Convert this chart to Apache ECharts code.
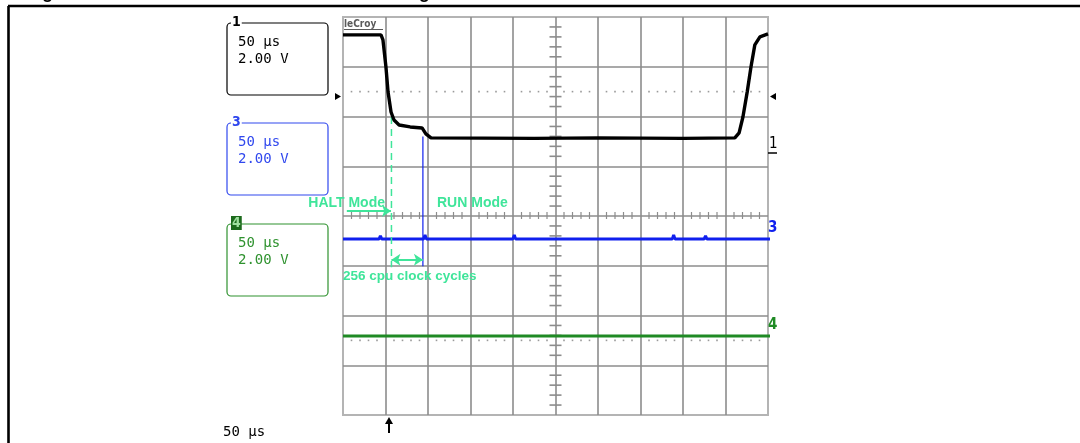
<!DOCTYPE html>
<html><head><meta charset="utf-8">
<script src="https://cdn.jsdelivr.net/npm/echarts@6/dist/echarts.min.js"></script>
<style>html,body{margin:0;padding:0;background:#fff}#c{width:1080px;height:443px}</style>
</head><body><div id="c"></div>
<script>
// Time axis in divisions (10 div x 50 µs), voltage in divisions (8 div x 2.00 V) from bottom
const xDivisions = [0, 10];
const yDivisions = [0, 8];
// Channel 1 (black) trace
const ch1Time = [0, 0.894, 0.94, 1.01, 1.06, 1.13, 1.2, 1.32, 1.58, 1.86, 1.95, 2.07, 4.5, 6.0, 8.0, 9.22, 9.32, 9.41, 9.51, 9.6, 9.69, 9.81, 10];
const ch1Volt = [7.64, 7.64, 7.54, 7.0, 6.49, 6.09, 5.93, 5.83, 5.79, 5.77, 5.65, 5.57, 5.56, 5.57, 5.56, 5.57, 5.67, 5.99, 6.49, 7.0, 7.44, 7.6, 7.66];
// Channel 3 (blue) trace
const ch3Time = [0, 0.85, 0.88, 0.91, 1.9, 1.93, 1.96, 4.0, 4.03, 4.06, 7.75, 7.78, 7.81, 8.5, 8.53, 8.56, 10.18];
const ch3Volt = [3.54, 3.54, 3.6, 3.54, 3.54, 3.62, 3.54, 3.54, 3.62, 3.54, 3.54, 3.62, 3.54, 3.54, 3.6, 3.54, 3.54];
// Channel 4 (green) trace
const ch4Time = [0, 10.18];
const ch4Volt = [1.59, 1.59];
// Blue cursor line at RUN mode start
const runCursorTime = [1.88, 1.88];
const runCursorVolt = [5.6, 2.99];
// HALT mode exit (dashed) cursor
const haltCursorTime = [1.14, 1.14];
const haltCursorVolt = [5.99, 2.97];
// Annotation arrows
const haltArrow = [[0.09, 4.1], [1.13, 4.1]];
const runArrow = [[10.1, 4.1], [1.93, 4.1]];
const cyclesArrow = [[1.14, 3.12], [1.88, 3.12]];
// Reference level dotted rows (divisions)
const refLevels = [6.5, 1.5];
// Channel box texts
const boxTexts = ['50 μs', '2.00 V'];
const timebaseText = '50 μs';

const MINT = '#3fe59a';
const BLUE = '#1020ee';
const GREEN = '#1f8a24';
const zip = (a, b) => a.map((v, i) => [v, b[i]]);

const chart = echarts.init(document.getElementById('c'));
const mono = '"DejaVu Sans Mono", monospace';
const boldSans = '"Liberation Sans", Arial, sans-serif';

function box(x, y, color, label, labelStyle) {
  const els = [
    {type: 'rect', shape: {x: x, y: y, width: 101, height: 72, r: 4}, style: {fill: 'none', stroke: color, lineWidth: 1.2}},
    {type: 'text', x: x + 11, y: y + 19, style: {text: boxTexts[0], font: '14px ' + mono, fill: color, verticalAlign: 'middle'}},
    {type: 'text', x: x + 11, y: y + 36, style: {text: boxTexts[1], font: '14px ' + mono, fill: color, verticalAlign: 'middle'}},
    {type: 'text', x: x + 4, y: y - 1, style: Object.assign({text: label, font: 'bold 14px "DejaVu Sans Condensed", sans-serif', fill: color, verticalAlign: 'middle', backgroundColor: '#fff', padding: [0, 1]}, labelStyle || {})}
  ];
  return els;
}

const option = {
  animation: false,
  backgroundColor: '#fff',
  grid: {left: 343, top: 17, width: 425, height: 398, show: true, borderColor: '#b4b4b4', borderWidth: 2, backgroundColor: 'transparent'},
  xAxis: {type: 'value', min: xDivisions[0], max: xDivisions[1], interval: 1,
    axisLine: {show: false}, axisTick: {show: false}, axisLabel: {show: false},
    splitLine: {show: true, showMinLine: false, showMaxLine: false, lineStyle: {color: '#8c8c8c', width: 1.6}}},
  yAxis: {type: 'value', min: yDivisions[0], max: yDivisions[1], interval: 1,
    axisLine: {show: false}, axisTick: {show: false}, axisLabel: {show: false},
    splitLine: {show: true, showMinLine: false, showMaxLine: false, lineStyle: {color: '#8c8c8c', width: 1.6}}},
  series: [
    {
      type: 'custom', name: 'reticle', silent: true, z: 1,
      data: [[0, 0]],
      renderItem: function (params, api) {
        const ch = [];
        const xc = (xDivisions[0] + xDivisions[1]) / 2;
        const yc = (yDivisions[0] + yDivisions[1]) / 2;
        for (let k = 1; k < 50; k++) {
          if (k % 5 === 0) continue;
          const p = api.coord([k * 0.2, yc]);
          ch.push({type: 'line', shape: {x1: p[0], y1: p[1] - 4, x2: p[0], y2: p[1] + 3}, style: {stroke: '#8c8c8c', lineWidth: 1.2}});
          refLevels.forEach(function (lv) {
            const q = api.coord([k * 0.2, lv]);
            ch.push({type: 'rect', shape: {x: q[0] - 0.8, y: q[1] - 0.8, width: 1.6, height: 1.6}, style: {fill: '#9a9a9a'}});
          });
        }
        for (let k = 1; k < 40; k++) {
          if (k % 5 === 0) continue;
          const p = api.coord([xc, k * 0.2]);
          ch.push({type: 'line', shape: {x1: p[0] - 6, y1: p[1], x2: p[0] + 6, y2: p[1]}, style: {stroke: '#8c8c8c', lineWidth: 1.6}});
        }
        return {type: 'group', children: ch};
      }
    },
    {type: 'line', name: 'CH4', data: zip(ch4Time, ch4Volt), showSymbol: false, clip: false, z: 3,
      lineStyle: {color: GREEN, width: 3}},
    {type: 'line', name: 'CH3', data: zip(ch3Time, ch3Volt), showSymbol: false, clip: false, z: 3,
      lineStyle: {color: BLUE, width: 3}},
    {type: 'line', name: 'RUN cursor', data: zip(runCursorTime, runCursorVolt), showSymbol: false, z: 3,
      lineStyle: {color: BLUE, width: 1.2}},
    {type: 'line', name: 'HALT cursor', data: zip(haltCursorTime, haltCursorVolt), showSymbol: false, z: 3,
      lineStyle: {color: MINT, width: 1.5, type: [7, 5]}},
    {type: 'line', name: 'CH1', data: zip(ch1Time, ch1Volt), showSymbol: false, z: 4,
      lineStyle: {color: '#000', width: 3.4}},
    {type: 'line', name: 'annotations', data: [], z: 5,
      markLine: {silent: true, animation: false, symbol: ['none', 'arrow'], symbolSize: [9, 9], label: {show: false},
        lineStyle: {color: MINT, width: 2, type: 'solid'},
        data: [
          [{coord: haltArrow[0]}, {coord: haltArrow[1]}],
          [{coord: runArrow[0]}, {coord: runArrow[1]}],
          [{coord: cyclesArrow[0], symbol: 'arrow'}, {coord: cyclesArrow[1]}]
        ]}}
  ],
  graphic: [
    // page frame and clipped title
    {type: 'text', x: 26, y: -7, style: {text: 'Figure 10. HALT mode exit to RUN mode timing', font: 'bold 18px ' + boldSans, fill: '#000', verticalAlign: 'middle'}},
    {type: 'line', shape: {x1: 8, y1: 6, x2: 1080, y2: 6}, style: {stroke: '#000', lineWidth: 2.6}},
    {type: 'line', shape: {x1: 8.5, y1: 6, x2: 8.5, y2: 443}, style: {stroke: '#000', lineWidth: 2.6}},
    // LeCroy logo
    {type: 'text', x: 344, y: 24, z: 10, style: {text: 'leCroy', font: 'bold 10px "DejaVu Sans Condensed", sans-serif', fill: '#5a5a5a', verticalAlign: 'middle'}},
    {type: 'line', shape: {x1: 344, y1: 29.5, x2: 383, y2: 29.5}, style: {stroke: '#5a5a5a', lineWidth: 1}},
    // channel boxes
    ...box(227, 23, '#000', '1'),
    ...box(227, 123, '#3048ee', '3'),
    ...box(227, 224, '#2f922f', '4', {fill: '#9fe09f', backgroundColor: '#1d6b1d', padding: [0, 1], stroke: '#1d6b1d'}),
    {type: 'text', x: 223, y: 432, style: {text: timebaseText, font: '14px ' + mono, fill: '#000', verticalAlign: 'middle'}},
    // trigger level markers
    {type: 'polygon', shape: {points: [[335, 93], [341, 96.5], [335, 100]]}, style: {fill: '#000'}},
    {type: 'polygon', shape: {points: [[776, 93], [770, 96.5], [776, 100]]}, style: {fill: '#000'}},
    // trigger time arrow
    {type: 'line', shape: {x1: 389, y1: 433, x2: 389, y2: 422}, style: {stroke: '#000', lineWidth: 2}},
    {type: 'polygon', shape: {points: [[385, 424], [389, 417], [393, 424]]}, style: {fill: '#000'}},
    // channel markers on the right
    {type: 'text', x: 769, y: 144, style: {text: '1', font: '15px "DejaVu Sans Condensed", sans-serif', fill: '#000', verticalAlign: 'middle'}},
    {type: 'line', shape: {x1: 768, y1: 153, x2: 777, y2: 153}, style: {stroke: '#000', lineWidth: 1.5}},
    {type: 'text', x: 768, y: 228, style: {text: '3', font: 'bold 15px "DejaVu Sans Condensed", sans-serif', fill: BLUE, verticalAlign: 'middle'}},
    {type: 'text', x: 768, y: 325, style: {text: '4', font: 'bold 15px "DejaVu Sans Condensed", sans-serif', fill: GREEN, verticalAlign: 'middle'}},
    // annotations text
    {type: 'text', x: 385, y: 203, z: 10, style: {text: 'HALT Mode', font: 'bold 14px ' + boldSans, fill: MINT, align: 'right', verticalAlign: 'middle'}},
    {type: 'text', x: 437, y: 203, z: 10, style: {text: 'RUN Mode', font: 'bold 14px ' + boldSans, fill: MINT, verticalAlign: 'middle'}},
    {type: 'text', x: 343, y: 276, z: 10, style: {text: '256 cpu clock cycles', font: 'bold 13.5px ' + boldSans, fill: MINT, verticalAlign: 'middle'}}
  ]
};
chart.setOption(option);
</script></body></html>
